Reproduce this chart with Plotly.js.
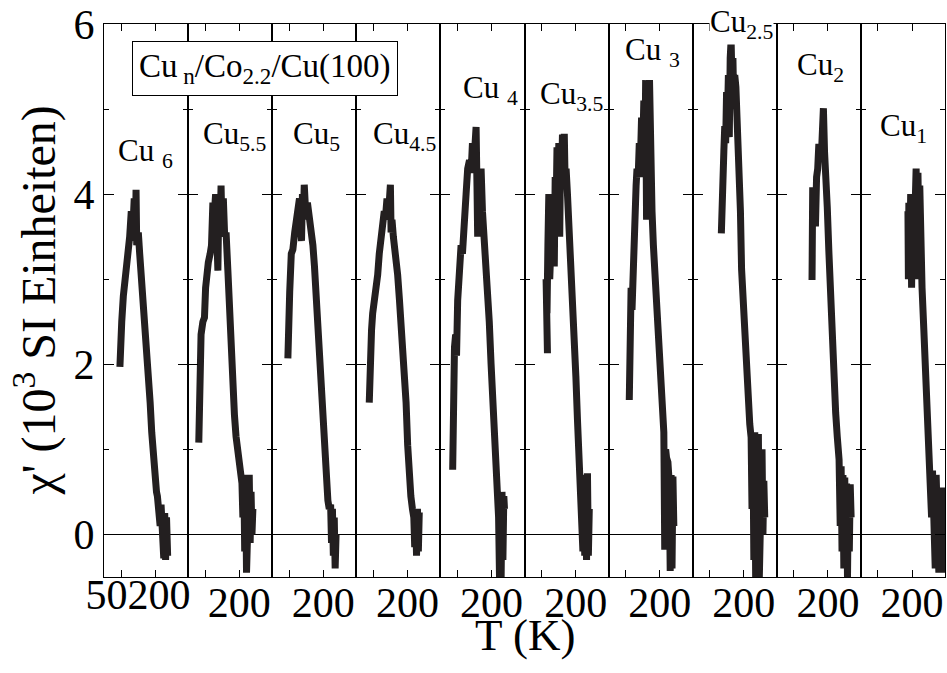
<!DOCTYPE html>
<html><head><meta charset="utf-8">
<script src="https://cdn.plot.ly/plotly-3.0.1.min.js"></script>
<style>html,body{margin:0;padding:0;background:#fff}#chart{width:947px;height:673px}</style>
</head><body><div id="chart"></div>
<script>
// ---- data (T in K, chi' in 10^3 SI units) ----
const sampleLabels = ['Cu <sub>6</sub>', 'Cu<sub>5.5</sub>', 'Cu<sub>5</sub>', 'Cu<sub>4.5</sub>', 'Cu <sub>4</sub>',
                      'Cu<sub>3.5</sub>', 'Cu <sub>3</sub>', 'Cu<sub>2.5</sub>', 'Cu<sub>2</sub>', 'Cu<sub>1</sub>'];

const cu6T   = [45, 48, 53, 60, 67, 74, 82, 88, 95, 102, 108, 113, 116, 119, 122, 126, 132, 141, 150, 160, 170, 178, 185, 193, 200, 206, 210, 214, 218, 222, 226, 230, 234, 238, 242, 246, 250, 255];
const cu6Chi = [1.97, 2.4, 2.5, 2.8, 2.95, 3.15, 3.4, 3.5, 3.8, 3.6, 3.95, 3.45, 4.05, 3.4, 3.85, 3.55, 3.3, 3.0, 2.7, 2.35, 1.95, 1.55, 1.2, 0.85, 0.6, 0.5, 0.45, 0.3, 0.4, 0.1, 0.35, -0.15, 0.3, -0.28, 0.25, -0.3, 0.2, -0.25];

const cu55T   = [22, 24, 27, 32, 40, 47, 52, 56, 64, 72, 78, 84, 90, 96, 102, 106, 110, 115, 120, 124, 130, 136, 142, 150, 157, 165, 172, 179, 186, 193, 201, 207, 212, 216, 220, 224, 228, 232, 236, 240, 244, 248, 252, 256, 260];
const cu55Chi = [1.08, 1.5, 1.85, 2.35, 2.5, 2.55, 2.9, 3.1, 3.2, 3.3, 3.4, 3.9, 3.75, 4.0, 3.6, 3.1, 3.9, 3.5, 4.1, 3.6, 3.95, 3.5, 3.55, 3.1, 2.6, 2.15, 1.8, 1.4, 1.15, 0.95, 0.8, 0.75, 0.6, 0.2, 0.7, -0.2, 0.6, -0.45, 0.5, -0.3, 0.7, -0.1, 0.5, 0.0, 0.3];

const cu5T   = [44, 45, 47, 52, 59, 66, 74, 81, 88, 95, 100, 104, 108, 112, 116, 122, 130, 140, 147, 154, 161, 168, 176, 183, 190, 198, 205, 213, 220, 226, 232, 236, 240, 244, 248, 252, 256];
const cu5Chi = [2.07, 2.5, 2.8, 2.85, 3.3, 3.35, 3.55, 3.75, 3.8, 3.95, 3.65, 3.45, 4.0, 3.7, 4.11, 3.8, 3.9, 3.7, 3.6, 3.4, 3.15, 2.8, 2.45, 2.15, 1.7, 1.2, 0.85, 0.5, 0.4, 0.3, 0.35, -0.1, 0.3, -0.25, 0.2, -0.4, 0.0];

const cu45T   = [32, 33, 36, 42, 47, 55, 62, 69, 76, 84, 91, 98, 104, 110, 115, 120, 125, 128, 132, 138, 145, 150, 157, 165, 172, 179, 186, 194, 201, 208, 215, 222, 228, 232, 236, 240, 244, 248, 252];
const cu45Chi = [1.55, 1.8, 2.1, 2.4, 2.6, 2.75, 2.95, 3.05, 3.3, 3.55, 3.65, 3.8, 3.75, 3.95, 3.7, 4.0, 4.11, 3.55, 3.7, 3.5, 3.35, 3.3, 3.05, 2.75, 2.5, 2.3, 1.95, 1.55, 1.05, 0.6, 0.45, 0.3, 0.2, -0.15, 0.25, -0.25, 0.3, -0.2, 0.26];

const cu4T   = [29, 30, 31, 34, 37, 42, 46, 51, 56, 61, 66, 72, 78, 81, 88, 95, 103, 110, 116, 122, 127, 132, 136, 139, 143, 148, 154, 160, 168, 176, 183, 190, 198, 205, 212, 220, 226, 231, 235, 238, 242, 246, 250, 254, 257];
const cu4Chi = [0.76, 1.2, 1.6, 1.9, 2.2, 2.35, 2.1, 2.75, 2.9, 3.1, 3.4, 3.3, 3.75, 3.95, 4.0, 4.3, 4.4, 4.25, 4.6, 4.35, 4.7, 4.79, 4.1, 3.5, 4.2, 3.9, 4.3, 3.8, 3.5, 3.2, 3.0, 2.5, 2.0, 1.6, 1.3, 1.0, 0.7, 0.2, -0.5, 0.4, -0.55, 0.5, -0.3, 0.45, 0.3];

const cu35T   = [76, 72, 70, 74, 78, 82, 86, 90, 94, 98, 102, 106, 110, 114, 118, 122, 126, 130, 134, 138, 142, 146, 150, 154, 158, 164, 172, 179, 186, 193, 201, 208, 216, 222, 228, 232, 236, 240, 244, 248, 252, 256, 260];
const cu35Chi = [2.13, 2.6, 3.0, 2.6, 3.4, 4.0, 3.0, 3.7, 3.1, 3.9, 3.6, 3.15, 4.2, 3.8, 4.55, 4.0, 4.6, 3.5, 4.6, 4.2, 4.7, 4.3, 4.71, 4.1, 4.3, 4.0, 3.6, 3.2, 2.84, 2.35, 1.86, 1.35, 0.76, 0.72, 0.4, -0.2, 0.7, -0.25, 0.6, -0.3, 0.72, -0.25, 0.3];

const cu3T   = [66, 67, 70, 74, 78, 81, 84, 88, 92, 96, 100, 105, 110, 115, 120, 125, 130, 134, 138, 142, 146, 150, 155, 160, 166, 172, 178, 183, 190, 198, 205, 212, 218, 222, 226, 230, 236, 242, 246, 250, 254, 258, 262];
const cu3Chi = [1.58, 2.0, 2.44, 2.9, 2.64, 3.03, 3.4, 3.93, 3.8, 4.1, 4.3, 4.2, 4.6, 4.4, 4.9, 4.5, 5.1, 4.2, 5.34, 3.7, 5.34, 4.3, 5.34, 4.01, 3.8, 3.4, 3.1, 2.84, 2.45, 2.05, 1.7, 1.35, 1.2, -0.18, 1.0, 0.9, 0.85, 0.6, -0.43, 0.7, -0.4, 0.68, 0.1];

const cu25T   = [101, 103, 106, 108, 112, 116, 120, 124, 128, 132, 136, 140, 144, 148, 152, 156, 160, 165, 170, 175, 180, 185, 190, 197, 204, 211, 219, 226, 232, 236, 240, 244, 248, 252, 256, 260, 264, 268, 272, 276, 280, 284, 288, 292];
const cu25Chi = [3.54, 3.9, 4.1, 4.29, 4.5, 4.8, 4.6, 5.2, 4.9, 5.4, 4.67, 5.6, 5.81, 5.3, 5.6, 5.0, 5.4, 5.26, 4.9, 4.6, 4.38, 3.8, 3.12, 2.7, 2.27, 1.85, 1.47, 1.3, 1.14, 0.3, 1.1, -0.3, 1.2, -0.5, 0.9, -0.4, 1.18, -0.51, 0.8, -0.3, 1.0, 0.0, 0.63, 0.2];

const cu2T   = [130, 131, 133, 136, 140, 145, 150, 155, 160, 165, 170, 175, 180, 185, 190, 197, 204, 211, 219, 226, 234, 241, 249, 254, 258, 262, 266, 270, 274, 278, 282, 286, 290, 294, 298, 302];
const cu2Chi = [2.99, 3.5, 4.08, 3.7, 4.0, 3.62, 4.2, 4.3, 4.59, 4.4, 4.38, 4.7, 5.01, 4.5, 4.29, 3.85, 3.33, 2.8, 2.27, 1.85, 1.43, 1.15, 0.88, 0.1, 0.8, -0.2, 0.7, -0.4, 0.67, -0.3, 0.6, -0.51, 0.5, -0.2, 0.59, 0.2];

const cu1T   = [182, 184, 186, 190, 194, 198, 202, 206, 210, 214, 218, 222, 226, 230, 234, 238, 244, 252, 260, 268, 276, 282, 286, 290, 294, 298, 302, 306, 310, 314, 318, 322, 326, 330, 334, 338, 342];
const cu1Chi = [3.8, 3.0, 3.9, 3.2, 4.0, 2.9, 3.8, 3.1, 4.2, 3.3, 4.3, 3.0, 4.25, 3.5, 4.1, 3.4, 2.9, 2.4, 1.9, 1.45, 1.0, 0.8, 0.2, 0.75, -0.2, 0.6, -0.4, 0.7, -0.1, 0.5, -0.45, 0.4, 0.0, 0.55, -0.3, 0.3, -0.45];

const xMajorVals = [200];
const xMajorText = ['200'];
const xMinorVals = [50];
const xFirstLabelText = ['50200'];
const yTickVals = [0, 2, 4, 6];
const yTickText = ['0', '2', '4', '6'];
const yMinorVals = [1, 3, 5];

const seriesT   = [cu6T, cu55T, cu5T, cu45T, cu4T, cu35T, cu3T, cu25T, cu2T, cu1T];
const seriesChi = [cu6Chi, cu55Chi, cu5Chi, cu45Chi, cu4Chi, cu35Chi, cu3Chi, cu25Chi, cu2Chi, cu1Chi];

// ---- label placement (layout only): [x in panel units, y, pixel shift] ----
const labelPos = [[31, 4.48, 0], [35, 4.68, 0], [62, 4.68, 0], [44, 4.68, 0], [71, 5.23, 0],
                  [37, 5.15, 0], [41, 5.67, 0], [45, 5.9, 9], [59, 5.49, 0], [54, 4.78, 0]];

const FONT = 'Times New Roman, Liberation Serif, Tinos, serif';
const INK = '#231f20';
const N = seriesT.length;
const sfx = i => (i === 0 ? '' : String(i + 1));

const traces = [];
const layout = {
  width: 947, height: 673,
  margin: {l: 104, r: 2, t: 24, b: 96},
  showlegend: false,
  paper_bgcolor: '#ffffff', plot_bgcolor: '#ffffff',
  font: {family: FONT, color: '#000'},
  annotations: []
};

for (let i = 0; i < N; i++) {
  traces.push({
    x: seriesT[i], y: seriesChi[i],
    xaxis: 'x' + sfx(i), yaxis: 'y' + sfx(i),
    mode: 'lines', line: {color: INK, width: 7}, hoverinfo: 'skip'
  });
  layout['xaxis' + sfx(i)] = {
    domain: [i / N, (i + 1) / N], range: [-25, 345], anchor: 'y' + sfx(i),
    tickvals: xMajorVals, ticktext: xMajorText, showticklabels: i !== 0,
    ticks: 'inside', ticklen: 7, tickwidth: 1, tickcolor: '#000',
    minor: {tickvals: xMinorVals, ticks: 'inside', ticklen: 7, tickwidth: 1, tickcolor: '#000'},
    showline: true, linecolor: '#000', linewidth: 1, mirror: 'ticks',
    showgrid: false, zeroline: false, tickfont: {size: 42, family: FONT, color: '#000'},
    ticklabelstandoff: -11, fixedrange: true
  };
  const ya = {
    domain: [0, 1], range: [-0.5, 6], anchor: 'x' + sfx(i),
    tickvals: yTickVals, ticktext: yTickText, showticklabels: i === 0,
    ticks: 'inside', ticklen: 10, tickwidth: 1, tickcolor: '#000',
    minor: {tickvals: yMinorVals, ticks: 'inside', ticklen: 5, tickwidth: 1, tickcolor: '#000'},
    showline: true, linecolor: '#000', linewidth: 1, mirror: 'ticks',
    showgrid: false, zeroline: true, zerolinecolor: '#000', zerolinewidth: 1.5,
    tickfont: {size: 42, family: FONT, color: '#000'}, fixedrange: true
  };
  if (i > 0) ya.matches = 'y';
  layout['yaxis' + sfx(i)] = ya;

  layout.annotations.push({
    text: sampleLabels[i], xref: 'x' + sfx(i), yref: 'y',
    x: labelPos[i][0], y: labelPos[i][1], yshift: labelPos[i][2],
    xanchor: 'left', yanchor: 'middle',
    showarrow: false, font: {size: 31, family: FONT, color: '#000'},
    bgcolor: i === 7 ? '#ffffff' : 'rgba(0,0,0,0)', borderpad: 0
  });
}

// overlay axis carrying the combined first-panel tick label
traces.push({x: [], y: [], xaxis: 'x11', yaxis: 'y', hoverinfo: 'skip'});
layout.xaxis11 = {
  overlaying: 'x', anchor: 'y', side: 'bottom', range: [-25, 345],
  tickvals: [125], ticktext: xFirstLabelText, ticks: '', showline: false,
  showgrid: false, zeroline: false, tickfont: {size: 42, family: FONT, color: '#000'},
  ticklabelstandoff: -11, fixedrange: true
};

layout.annotations.push({
  text: 'Cu<sub> n</sub>/Co<sub>2.2</sub>/Cu(100)', xref: 'paper', yref: 'paper',
  x: 0.1914, y: 0.92, xanchor: 'center', yanchor: 'middle', showarrow: false,
  font: {size: 33, family: FONT, color: '#000'},
  bordercolor: '#000', borderwidth: 1, borderpad: 6, bgcolor: '#ffffff'
});
layout.annotations.push({
  text: 'T (K)', xref: 'paper', yref: 'paper', x: 0.5, y: -0.105,
  xanchor: 'center', yanchor: 'middle', showarrow: false,
  font: {size: 45, family: FONT, color: '#000'}
});
layout.annotations.push({
  text: "χ' (10<sup>3</sup> SI Einheiten)", xref: 'paper', yref: 'paper',
  x: -0.082, y: 0.5, xanchor: 'center', yanchor: 'middle', textangle: -90,
  showarrow: false, font: {size: 48, family: FONT, color: '#000'}
});

Plotly.newPlot('chart', traces, layout, {displayModeBar: false, staticPlot: true});
</script>
</body></html>
